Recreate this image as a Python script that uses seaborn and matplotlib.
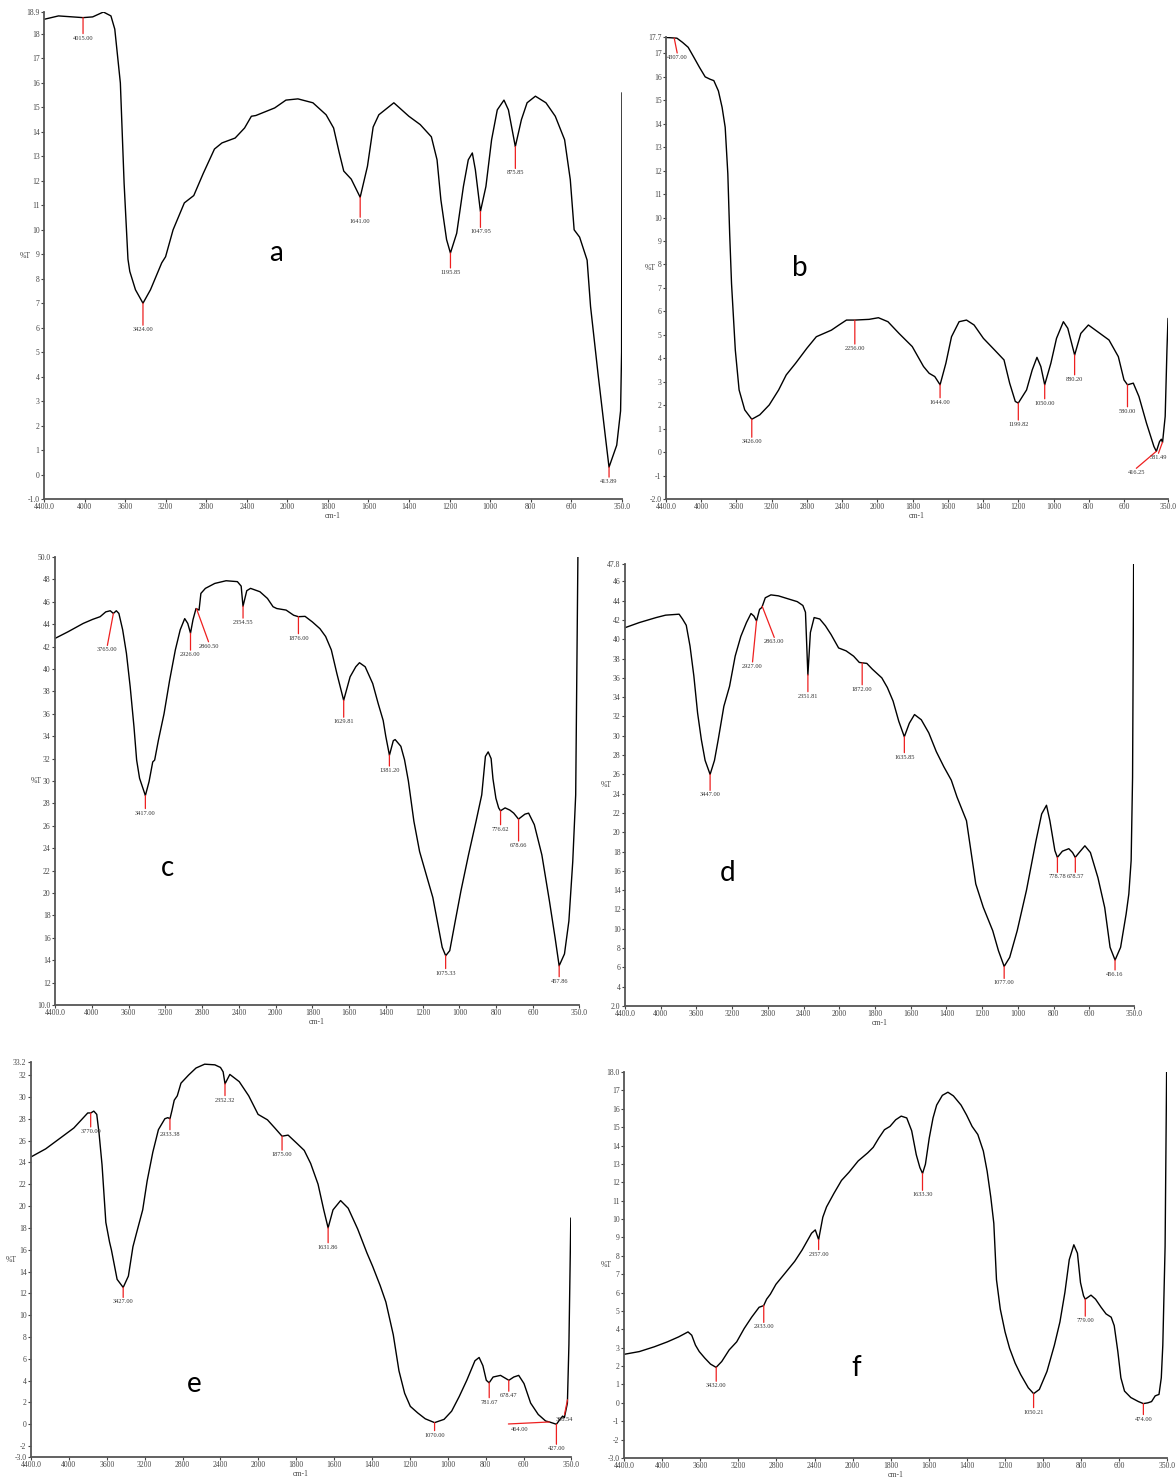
import numpy as np
import seaborn as sns
import matplotlib.pyplot as plt

# ---- spectra (wavenumber in cm-1, %T) ----
a_wn = [4400, 4257, 4015, 3920, 3814, 3740, 3702, 3647, 3610, 3572, 3554, 3498, 3424, 3350, 3239, 3201, 3127, 3016,
        2923, 2830, 2719, 2645, 2515, 2422, 2355, 2311, 2125, 2014, 1948, 1874, 1809, 1772, 1744, 1722, 1685, 1641,
        1605, 1577, 1549, 1475, 1401, 1345, 1290, 1262, 1243, 1215, 1196, 1165, 1132, 1108, 1088, 1073, 1048, 1021,
        993, 965, 932, 910, 876, 846, 818, 777, 725, 679, 633, 605, 586, 559, 522, 505, 468, 431, 414, 376, 357, 352, 350]
a_t = [18.6, 18.74, 18.67, 18.7, 18.9, 18.74, 18.2, 16.0, 11.9, 8.8, 8.3, 7.55, 7.0, 7.55, 8.65, 8.9, 10.0, 11.1,
       11.4, 12.3, 13.3, 13.55, 13.75, 14.16, 14.64, 14.67, 14.98, 15.3, 15.35, 15.19, 14.7, 14.16, 13.14, 12.4, 12.07, 11.33,
       12.6, 14.2, 14.7, 15.19, 14.64, 14.3, 13.8, 12.86, 11.22, 9.6, 9.05, 9.86, 11.77, 12.86, 13.14, 12.45, 10.75, 11.77,
       13.68, 14.9, 15.3, 14.9, 13.4, 14.5, 15.19, 15.46, 15.19, 14.64, 13.68, 12.05, 10.0, 9.7, 8.76, 6.86, 4.1, 1.48, 0.3, 1.2, 2.6, 5.0, 15.6]

b_wn = [4400, 4276, 4212, 4148, 4083, 4019, 3955, 3900, 3857, 3805, 3763, 3728, 3698, 3677, 3656, 3613, 3570, 3506,
        3426, 3335, 3228, 3121, 3035, 2928, 2800, 2693, 2522, 2436, 2351, 2256, 2094, 1994, 1940, 1877, 1802, 1738,
        1706, 1674, 1644, 1611, 1579, 1536, 1494, 1451, 1398, 1334, 1281, 1249, 1217, 1200, 1153, 1121, 1094, 1072,
        1050, 1015, 983, 944, 919, 880, 845, 802, 749, 685, 632, 600, 580, 547, 515, 472, 430, 416, 398, 388, 381, 366, 356, 350]
b_t = [17.68, 17.65, 17.47, 17.26, 16.83, 16.4, 16.0, 15.9, 15.84, 15.4, 14.7, 13.85, 11.87, 9.3, 7.19, 4.35, 2.65, 1.8,
       1.4, 1.59, 2.01, 2.65, 3.29, 3.79, 4.43, 4.92, 5.2, 5.42, 5.63, 5.63, 5.66, 5.73, 5.56, 5.06, 4.5, 3.65,
       3.36, 3.22, 2.87, 3.79, 4.92, 5.56, 5.63, 5.42, 4.85, 4.35, 3.93, 2.94, 2.16, 2.09, 2.65, 3.5, 4.04, 3.65,
       2.87, 3.79, 4.85, 5.56, 5.28, 4.14, 5.06, 5.42, 5.13, 4.78, 4.07, 3.08, 2.87, 2.94, 2.37, 1.23, 0.24, 0.03, 0.45, 0.55, 0.41, 1.52, 4.35, 5.7]

c_wn = [4400, 4257, 4093, 3991, 3909, 3848, 3799, 3765, 3733, 3705, 3664, 3623, 3582, 3541, 3512, 3480, 3417, 3377,
        3337, 3316, 3275, 3214, 3153, 3091, 3038, 2989, 2956, 2926, 2899, 2866, 2833, 2813, 2764, 2662, 2539, 2416,
        2375, 2355, 2314, 2273, 2171, 2089, 2028, 1994, 1943, 1902, 1876, 1840, 1800, 1759, 1728, 1697, 1667, 1630,
        1595, 1564, 1544, 1513, 1472, 1442, 1415, 1401, 1381, 1360, 1350, 1319, 1299, 1278, 1248, 1217, 1176, 1145,
        1114, 1094, 1075, 1053, 1023, 992, 951, 910, 879, 859, 844, 828, 818, 802, 787, 777, 752, 726, 705, 679,
        644, 624, 593, 552, 511, 480, 458, 429, 405, 384, 368, 356]
c_t = [42.73, 43.33, 44.07, 44.43, 44.67, 45.1, 45.2, 44.96, 45.2, 44.96, 43.5, 41.4, 38.4, 34.85, 31.87, 30.24, 28.7, 29.94,
       31.7, 31.87, 33.65, 36.0, 39.0, 41.7, 43.5, 44.5, 44.07, 43.2, 44.4, 45.4, 45.26, 46.75, 47.2, 47.64, 47.88, 47.8,
       47.4, 45.6, 46.99, 47.2, 46.9, 46.3, 45.56, 45.4, 45.26, 44.8, 44.67, 44.7, 44.2, 43.6, 42.9, 41.7, 39.6, 37.2,
       39.3, 40.2, 40.56, 40.2, 38.7, 36.9, 35.4, 34.0, 32.3, 33.6, 33.7, 33.1, 31.9, 30.0, 26.4, 23.7, 21.36, 19.6,
       16.9, 15.15, 14.4, 14.85, 17.5, 20.2, 23.4, 26.4, 28.76, 32.2, 32.6, 32.0, 30.2, 28.46, 27.6, 27.34, 27.6, 27.4, 27.13, 26.6,
       27.04, 27.13, 26.1, 23.4, 19.3, 16.0, 13.5, 14.56, 17.5, 22.8, 28.76, 50.0]

d_wn = [4400, 4240, 4051, 3945, 3794, 3756, 3714, 3672, 3629, 3587, 3545, 3503, 3447, 3398, 3356, 3293, 3229, 3166,
        3103, 3040, 2989, 2956, 2927, 2893, 2867, 2829, 2766, 2682, 2577, 2471, 2408, 2379, 2352, 2324, 2282, 2219,
        2156, 2093, 2008, 1962, 1920, 1888, 1872, 1846, 1815, 1762, 1731, 1699, 1667, 1636, 1608, 1579, 1541, 1499,
        1457, 1415, 1373, 1341, 1288, 1236, 1194, 1141, 1109, 1077, 1046, 1004, 952, 899, 867, 840, 821, 793, 779,
        751, 715, 694, 679, 657, 625, 594, 552, 514, 484, 456, 425, 394, 379, 366, 358, 352]
d_t = [41.2, 41.73, 42.25, 42.5, 42.6, 42.1, 41.45, 39.3, 36.2, 32.35, 29.6, 27.45, 26.0, 27.45, 29.6, 33.05, 35.13, 38.26,
       40.3, 41.73, 42.67, 42.4, 41.9, 43.1, 43.3, 44.3, 44.6, 44.5, 44.2, 43.9, 43.5, 42.8, 36.3, 40.7, 42.25, 42.1,
       41.4, 40.5, 39.1, 38.8, 38.25, 37.6, 37.56, 37.5, 36.9, 36.0, 35.0, 33.6, 31.5, 29.9, 31.3, 32.2, 31.66, 30.3,
       28.36, 26.8, 25.4, 23.65, 21.2, 14.65, 12.23, 9.8, 7.73, 6.1, 7.04, 9.8, 14.0, 19.1, 21.9, 22.8, 21.2, 18.1, 17.4,
       18.04, 18.3, 17.9, 17.4, 17.9, 18.6, 17.9, 15.3, 12.2, 8.08, 6.76, 8.08, 11.54, 13.6, 17.07, 25.7, 47.8]

e_wn = [4400, 4245, 4086, 3948, 3868, 3801, 3769, 3737, 3706, 3682, 3650, 3610, 3571, 3551, 3491, 3427, 3372, 3324,
        3293, 3221, 3174, 3114, 3055, 2987, 2956, 2933, 2912, 2888, 2856, 2817, 2737, 2658, 2567, 2459, 2400, 2372,
        2352, 2301, 2202, 2102, 2003, 1952, 1913, 1875, 1843, 1794, 1758, 1724, 1685, 1655, 1632, 1606, 1566, 1526,
        1476, 1427, 1397, 1357, 1327, 1288, 1258, 1228, 1198, 1159, 1119, 1070, 1020, 980, 940, 900, 857, 835, 815,
        797, 782, 761, 722, 678, 652, 626, 598, 563, 523, 484, 464, 427, 408, 394, 385, 369, 361, 351]
e_t = [24.5, 25.24, 26.26, 27.15, 27.9, 28.53, 28.53, 28.7, 28.4, 26.7, 23.76, 18.5, 16.7, 15.97, 13.28, 12.54, 13.58, 16.27,
       17.3, 19.65, 22.3, 24.94, 27.0, 28.0, 28.1, 28.0, 28.76, 29.7, 30.1, 31.26, 32.0, 32.65, 33.0, 32.94, 32.7, 32.3,
       31.2, 32.06, 31.4, 30.1, 28.4, 27.9, 27.15, 26.4, 26.5, 25.7, 25.1, 23.9, 22.0, 19.65, 18.0, 19.65, 20.5, 19.8,
       17.9, 15.7, 14.48, 12.7, 11.2, 8.2, 4.9, 2.84, 1.64, 1.04, 0.5, 0.15, 0.45, 1.2, 2.54, 4.03, 5.82, 6.12, 5.37,
       4.03, 3.8, 4.33, 4.48, 4.03, 4.33, 4.48, 3.73, 1.94, 0.9, 0.3, 0.21, 0.0, 0.45, 0.75, 0.6, 1.94, 7.3, 18.9]

f_wn = [4400, 4239, 4082, 3944, 3826, 3728, 3689, 3650, 3610, 3551, 3492, 3433, 3374, 3296, 3217, 3139, 3060, 2982,
        2934, 2903, 2864, 2805, 2707, 2608, 2530, 2431, 2392, 2357, 2313, 2274, 2196, 2117, 2039, 1971, 1921, 1892,
        1863, 1833, 1804, 1774, 1745, 1716, 1690, 1666, 1647, 1633, 1618, 1598, 1578, 1559, 1529, 1500, 1471, 1431,
        1402, 1373, 1343, 1314, 1294, 1275, 1259, 1245, 1225, 1200, 1176, 1147, 1118, 1078, 1050, 1020, 980, 941,
        912, 886, 863, 839, 820, 804, 788, 779, 749, 725, 696, 670, 643, 627, 608, 592, 573, 540, 500, 474, 451,
        431, 412, 392, 380, 372, 366, 360, 352]
f_t = [2.64, 2.79, 3.05, 3.32, 3.59, 3.86, 3.68, 3.14, 2.79, 2.43, 2.11, 1.93, 2.25, 2.88, 3.32, 4.04, 4.66, 5.2,
       5.29, 5.64, 5.91, 6.45, 7.07, 7.7, 8.32, 9.23, 9.41, 8.88, 10.1, 10.66, 11.4, 12.1, 12.54, 13.16, 13.6, 13.9,
       14.4, 14.86, 15.04, 15.4, 15.6, 15.5, 14.8, 13.5, 12.8, 12.48, 12.98, 14.4, 15.5, 16.2, 16.73, 16.9, 16.7, 16.2,
       15.66, 15.04, 14.6, 13.7, 12.6, 11.2, 9.77, 6.7, 5.1, 3.86, 2.96, 2.16, 1.54, 0.82, 0.5, 0.73, 1.71, 3.14,
       4.4, 6.0, 7.79, 8.6, 8.14, 6.54, 5.82, 5.64, 5.86, 5.64, 5.2, 4.84, 4.66, 4.2, 2.79, 1.36, 0.64, 0.29, 0.07, -0.04, 0.0,
       0.07, 0.38, 0.46, 1.36, 3.14, 5.82, 8.5, 18.0]

# ---- labelled peaks ----
a_peaks = [4015.00, 3424.00, 1641.00, 1195.85, 1047.95, 875.85, 413.89]
b_peaks = [4307.00, 3426.00, 2256.00, 1644.00, 1199.82, 1050.00, 880.20, 580.00, 416.25, 381.49]
c_peaks = [3765.00, 2926.00, 2860.50, 2354.55, 1876.00, 1629.81, 1381.20, 3417.00, 1075.33, 776.62, 678.66, 457.86]
d_peaks = [2927.00, 2863.00, 2351.81, 1872.00, 1635.85, 3447.00, 1077.00, 778.78, 678.57, 456.16]
e_peaks = [3770.00, 2933.38, 2352.32, 1875.00, 1631.86, 3427.00, 1070.00, 781.67, 678.47, 464.00, 427.00, 368.54]
f_peaks = [3432.00, 2933.00, 2357.00, 1633.30, 1050.21, 779.00, 474.00]

x_ticks = [4400, 4000, 3600, 3200, 2800, 2400, 2000, 1800, 1600, 1400, 1200, 1000, 800, 600, 350]
x_labels = ['4400.0', '4000', '3600', '3200', '2800', '2400', '2000', '1800', '1600', '1400',
            '1200', '1000', '800', '600', '350.0']

# marker line offsets in pixels (dx, down[, text dx, text down])
a_marks = [(0, 16), (0, 22), (0, 20), (0, 15), (0, 16), (0, 22), (0, 10)]
b_marks = [(3, 15), (0, 18), (0, 24), (0, 13), (0, 17), (0, 14), (0, 20), (0, 22), (-20, 17), (-4, 11)]
c_marks = [(-6, 32), (0, 17), (12, 33), (0, 12), (0, 17), (0, 17), (0, 11), (0, 13), (0, 13), (0, 14), (0, 22), (0, 11)]
d_marks = [(-4, 41), (12, 31), (0, 17), (0, 22), (0, 16), (0, 16), (0, 12), (0, 15), (0, 15), (0, 10)]
e_marks = [(0, 14), (0, 11), (0, 12), (0, 14), (0, 15), (0, 10), (0, 8), (0, 15), (0, 11), (-41, 2, -30, 5), (0, 20), (-3, 15)]
f_marks = [(0, 14), (0, 17), (0, 10), (0, 17), (0, 14), (0, 17), (0, 11)]

sns.set_theme(style='white')
plt.rcParams['font.family'] = ['Liberation Serif', 'DejaVu Serif']

RED = '#ee2020'
GREY = '#444444'


def fwd(x):
    x = np.asarray(x, dtype=float)
    return np.where(x > 2000, 2000 + (x - 2000) / 2, x)


def inv(t):
    t = np.asarray(t, dtype=float)
    return np.where(t > 2000, 2000 + (t - 2000) * 2, t)


def y_ticks(lo, hi, step):
    inner = [v for v in np.arange(np.ceil(lo / step) * step, hi, step) if lo + 1e-9 < v < hi - 1e-9]
    ticks = [lo] + inner + [hi]
    labels = [f'{lo:.1f}'] + [f'{v:.0f}' for v in inner] + [f'{hi:.1f}']
    return ticks, labels


W, H = 1176, 1483
fig = plt.figure(figsize=(W / 100, H / 100), dpi=100)

panels = [
    (a_wn, a_t, a_peaks, a_marks, (-1.0, 18.9, 1), (44, 12, 622, 499), 'a', (276, 253), 19),
    (b_wn, b_t, b_peaks, b_marks, (-2.0, 17.7, 1), (666, 37, 1168, 499), 'b', (800, 268), 16),
    (c_wn, c_t, c_peaks, c_marks, (10.0, 50.0, 2), (55, 557, 579, 1005), 'c', (168, 868), 19),
    (d_wn, d_t, d_peaks, d_marks, (2.0, 47.8, 2), (625, 564, 1134, 1006), 'd', (728, 873), 19),
    (e_wn, e_t, e_peaks, e_marks, (-3.0, 33.2, 2), (31, 1062, 571, 1457), 'e', (194, 1384), 20),
    (f_wn, f_t, f_peaks, f_marks, (-3.0, 18.0, 1), (624, 1072, 1167, 1458), 'f', (856, 1368), 18),
]

for wn, t, peaks, marks, (lo, hi, step), (l, top, r, b), letter, (lx, ly), yoff in panels:
    ax = fig.add_axes([l / W, 1 - b / H, (r - l) / W, (b - top) / H])
    sns.lineplot(x=wn, y=t, ax=ax, color='black', linewidth=1.0, estimator=None)
    ax.set_xscale('function', functions=(fwd, inv))
    ax.set_xlim(4400, 350)
    ax.set_ylim(lo, hi)
    ax.set_xticks(x_ticks)
    ax.set_xticklabels(x_labels)
    yt, yl = y_ticks(lo, hi, step)
    ax.set_yticks(yt)
    ax.set_yticklabels(yl)
    ax.minorticks_off()

    for s in ['top', 'right']:
        ax.spines[s].set_visible(False)
    for s in ['left', 'bottom']:
        ax.spines[s].set_color('#555555')
        ax.spines[s].set_linewidth(1.3)
    ax.tick_params(axis='both', bottom=True, left=True, direction='out', length=2.2, width=0.8,
                   pad=1, labelsize=5.5, colors=GREY)

    ax.set_xlabel('cm-1', fontsize=5.5, color=GREY, labelpad=0.5)
    ax.set_ylabel('%T', fontsize=5.5, color=GREY, rotation=0, ha='center', va='center')
    ax.yaxis.set_label_coords(-yoff / (r - l), 0.5)

    xs = np.array(wn[::-1], dtype=float)
    ys = np.array(t[::-1], dtype=float)
    for p, m in zip(peaks, marks):
        yv = np.interp(p, xs, ys)
        dx, dy = m[0], m[1]
        tx, ty = (m[2], m[3]) if len(m) > 2 else (dx, dy + 2)
        ax.annotate('', xy=(p, yv), xytext=(dx, -dy), textcoords='offset pixels',
                    arrowprops=dict(arrowstyle='-', color=RED, lw=0.9, shrinkA=0, shrinkB=0),
                    annotation_clip=False)
        ax.annotate(f'{p:.2f}', xy=(p, yv), xytext=(tx, -ty), textcoords='offset pixels',
                    ha='center', va='top', fontsize=4.6, color='#333333', annotation_clip=False)

    fig.text(lx / W, 1 - ly / H, letter, fontsize=20, family=['Lato', 'DejaVu Sans'],
             ha='center', va='center', color='black')

fig.savefig('out.png', dpi=100)
